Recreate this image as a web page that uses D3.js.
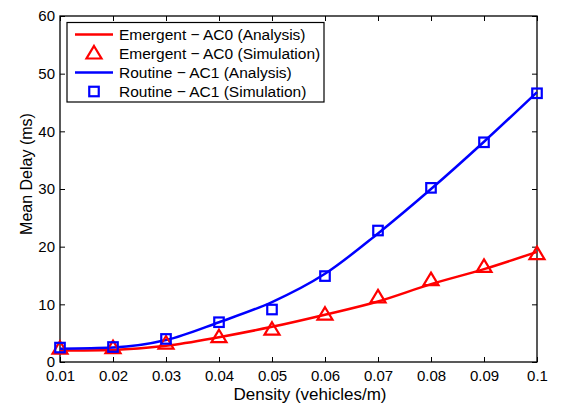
<!DOCTYPE html>
<html><head><meta charset="utf-8">
<script src="https://cdn.jsdelivr.net/npm/d3@7"></script>
<style>body{margin:0;background:#fff}svg{display:block}text{font-family:"Liberation Sans",Arial,sans-serif}</style>
</head><body><svg id="c" width="561" height="403"></svg>
<script>
const density = [0.01,0.02,0.03,0.04,0.05,0.06,0.07,0.08,0.09,0.1];
const ac0Analysis = [2.0,2.1,2.8,4.3,6.1,8.2,10.5,13.5,16.1,19.1];
const ac0Simulation = [2.3,2.4,3.2,4.3,5.6,8.2,11.2,14.2,16.5,18.7];
const ac1Analysis = [2.3,2.5,3.8,6.9,10.4,15.3,22.3,30.0,38.2,46.8];
const ac1Simulation = [2.5,2.6,4.0,6.9,9.1,14.9,22.8,30.2,38.1,46.6];
const xTicks = [0.01,0.02,0.03,0.04,0.05,0.06,0.07,0.08,0.09,0.1];
const xTickLabels = ["0.01","0.02","0.03","0.04","0.05","0.06","0.07","0.08","0.09","0.1"];
const yTicks = [0,10,20,30,40,50,60];
const legendLabels = ["Emergent \u2212 AC0 (Analysis)","Emergent \u2212 AC0 (Simulation)","Routine \u2212 AC1 (Analysis)","Routine \u2212 AC1 (Simulation)"];

const svg = d3.select("#c");
const L=60,R=537,T=16,B=362;
const x = d3.scaleLinear().domain([0.01,0.1]).range([L,R]);
const y = d3.scaleLinear().domain([0,60]).range([B,T]);
const red="#ff0000", blue="#0000ff";

// axes
const fmtX = (d,i)=>xTickLabels[i];
const gx = svg.append("g").attr("transform",`translate(0,${B})`)
  .call(d3.axisBottom(x).tickValues(xTicks).tickFormat(fmtX).tickSizeInner(-5).tickSizeOuter(0).tickPadding(8));
const gxt = svg.append("g").attr("transform",`translate(0,${T})`)
  .call(d3.axisTop(x).tickValues(xTicks).tickFormat("").tickSizeInner(-5).tickSizeOuter(0));
const gy = svg.append("g").attr("transform",`translate(${L},0)`)
  .call(d3.axisLeft(y).tickValues(yTicks).tickSizeInner(-5).tickSizeOuter(0).tickPadding(5));
const gyr = svg.append("g").attr("transform",`translate(${R},0)`)
  .call(d3.axisRight(y).tickValues(yTicks).tickFormat("").tickSizeInner(-5).tickSizeOuter(0));
[gx,gxt,gy,gyr].forEach(g=>{
  g.selectAll("path").remove();
  g.selectAll("line").attr("stroke","#000").attr("stroke-width",1);
  g.selectAll("text").attr("font-size",15).attr("fill","#000").style("font-family",'"Liberation Sans",Arial,sans-serif');
});
svg.append("rect").attr("x",L).attr("y",T).attr("width",R-L).attr("height",B-T)
  .attr("fill","none").attr("stroke","#000").attr("stroke-width",1.3);

// lines
const line = d3.line().x((d,i)=>x(density[i])).y(d=>y(d)).curve(d3.curveMonotoneX);
svg.append("path").datum(ac0Analysis).attr("d",line).attr("fill","none").attr("stroke",red).attr("stroke-width",2.5);
svg.append("path").datum(ac1Analysis).attr("d",line).attr("fill","none").attr("stroke",blue).attr("stroke-width",2.5);

const triPath = (cx,cy)=>{const h=12.5,w=15;return `M${cx},${cy-h*0.6}L${cx+w/2},${cy+h*0.4}L${cx-w/2},${cy+h*0.4}Z`;};
svg.append("g").selectAll("path").data(ac0Simulation).join("path")
  .attr("d",(d,i)=>triPath(x(density[i]),y(d))).attr("fill","none").attr("stroke",red).attr("stroke-width",2.2);
const sq=9.5;
svg.append("g").selectAll("rect").data(ac1Simulation).join("rect")
  .attr("x",(d,i)=>x(density[i])-sq/2).attr("y",d=>y(d)-sq/2).attr("width",sq).attr("height",sq)
  .attr("fill","none").attr("stroke",blue).attr("stroke-width",2.2);

// labels
svg.append("text").attr("x",310).attr("y",400).attr("text-anchor","middle").attr("font-size",17).text("Density (vehicles/m)");
svg.append("text").attr("transform",`translate(32,174) rotate(-90)`).attr("text-anchor","middle").attr("font-size",16).text("Mean Delay (ms)");

// legend
const lg = svg.append("g");
lg.append("rect").attr("x",67).attr("y",22.5).attr("width",257).attr("height",79.5).attr("fill","#fff").attr("stroke","#000").attr("stroke-width",1.2);
const ly=[34.5,53.5,72.5,91.5];
lg.append("line").attr("x1",75).attr("x2",113).attr("y1",ly[0]).attr("y2",ly[0]).attr("stroke",red).attr("stroke-width",2.5);
lg.append("path").attr("d",triPath(94,ly[1])).attr("fill","none").attr("stroke",red).attr("stroke-width",2.2);
lg.append("line").attr("x1",75).attr("x2",113).attr("y1",ly[2]).attr("y2",ly[2]).attr("stroke",blue).attr("stroke-width",2.5);
lg.append("rect").attr("x",94-sq/2).attr("y",ly[3]-sq/2).attr("width",sq).attr("height",sq).attr("fill","none").attr("stroke",blue).attr("stroke-width",2.2);
lg.selectAll("text.l").data(legendLabels).join("text").attr("class","l")
  .attr("x",119).attr("y",(d,i)=>ly[i]+5.5).attr("font-size",15.5).text(d=>d);
</script></body></html>
